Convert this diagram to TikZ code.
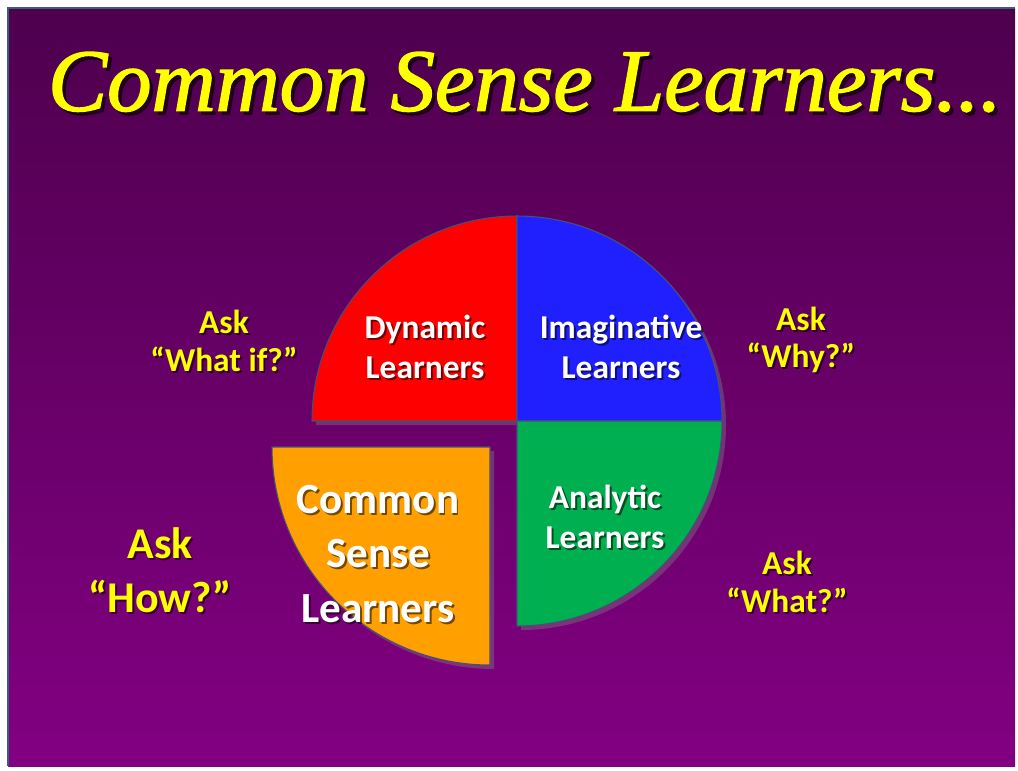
\documentclass[tikz,border=0pt]{standalone}
\usepackage{fontspec}
\setmainfont{Carlito}
\newfontfamily\titlefont[ItalicFeatures={FakeBold=1.6}]{Liberation Serif}
\usetikzlibrary{calc, shadows}
\definecolor{slidetop}{RGB}{78, 0, 78}
\definecolor{slidebot}{RGB}{130, 0, 130}
\definecolor{slideedge}{RGB}{60, 90, 130}
\definecolor{pieedge}{RGB}{70, 80, 120}
\definecolor{dynred}{RGB}{255, 0, 0}
\definecolor{imagblue}{RGB}{32, 32, 255}
\definecolor{anagreen}{RGB}{0, 176, 80}
\definecolor{csorange}{RGB}{255, 160, 0}
\definecolor{askyellow}{RGB}{255, 255, 0}

% text drawn twice: soft shadow first, then the text itself
\newcommand{\shadowed}[5][2]{%
  \node[#4, text=black, opacity=0.55] (#2-sh) at ($(#3)+(#1,#1)$) {#5};
  \node[#4] (#2) at (#3) {#5};
}

\begin{document}
\begin{tikzpicture}[x=0.2mm, y=-0.2mm,
  sector/.style={draw=pieedge, line width=0.6pt,
    drop shadow={shadow xshift=0.8mm, shadow yshift=-0.8mm, opacity=0.4}},
  learner/.style={text=white, font=\bfseries\fontsize{19}{22.5}\selectfont, align=center, inner sep=0pt},
  biglearner/.style={text=white, font=\bfseries\fontsize{24.5}{31}\selectfont, align=center, inner sep=0pt},
  ask/.style={text=askyellow, font=\bfseries\fontsize{19}{21.5}\selectfont, align=center, inner sep=0pt},
  bigask/.style={text=askyellow, font=\bfseries\fontsize{25}{31}\selectfont, align=center, inner sep=0pt},
  titletext/.style={text=askyellow, font=\titlefont\itshape\fontsize{50.5}{60}\selectfont, inner sep=0pt}]

  % page and slide
  \fill[white] (0,0) rectangle (1018,770);
  \useasboundingbox (0,0) rectangle (1018,770);
  \shade[top color=slidetop, bottom color=slidebot] (8,8) rectangle (1015,766);
  \draw[slideedge, line width=0.6pt] (8,766) -- (8,8) -- (1015,8);

  % Title
  \shadowed[3.5]{title}{525,82}{titletext}{Common Sense Learners...}

  % Pie quarters
  \coordinate (pc) at (517,421);
  \coordinate (oc) at (490,447);
  \fill[sector, fill=dynred] (pc) -- ++(-205,0) arc[start angle=180, end angle=270, radius=205] -- cycle;
  \fill[sector, fill=imagblue] (pc) -- ++(0,-205) arc[start angle=270, end angle=360, radius=205] -- cycle;
  \fill[sector, fill=anagreen] (pc) -- ++(205,0) arc[start angle=0, end angle=90, radius=205] -- cycle;
  \fill[sector, fill=csorange] (oc) -- ++(0,218) arc[start angle=90, end angle=180, radius=218] -- cycle;

  % Learner labels
  \shadowed{dyn}{425,347}{learner}{Dynamic\\Learners}
  \shadowed{imag}{621,347}{learner}{Imaginative\\Learners}
  \shadowed{ana}{605,517}{learner}{Analytic\\Learners}
  \shadowed{cs}{378,554}{biglearner}{Common\\Sense\\Learners}

  % Questions
  \shadowed{askwhatif}{224,341}{ask}{Ask\\“What if?”}
  \shadowed{askwhy}{801,340}{ask}{Ask\\“Why?”}
  \shadowed{askwhat}{787,582}{ask}{Ask\\“What?”}
  \shadowed{askhow}{160,570}{bigask}{Ask\\“How?”}
\end{tikzpicture}
\end{document}
